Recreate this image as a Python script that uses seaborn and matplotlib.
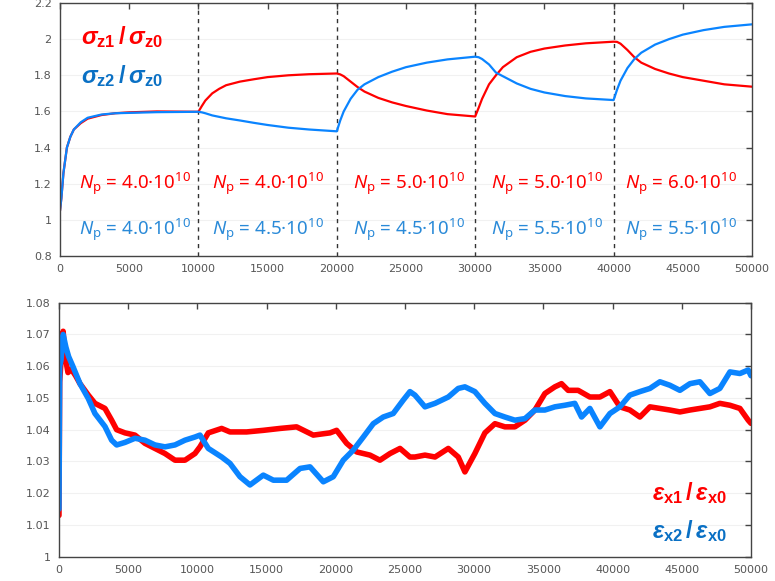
import numpy as np
import pandas as pd
import matplotlib
matplotlib.use("Agg")
import matplotlib.pyplot as plt
import seaborn as sns

# ---- bunch length ratios (upper panel) ----
turns_sz = [0, 100, 250, 500, 750, 1000, 1500, 2000, 3000, 4000, 5000, 7000, 10000,
            10250, 10500, 11000, 11500, 12000, 13000, 14000, 15000, 16500, 18000, 20000,
            20250, 20500, 21000, 21500, 22000, 23000, 24000, 25000, 26500, 28000, 30000,
            30250, 30500, 31000, 31500, 32000, 33000, 34000, 35000, 36500, 38000, 40000,
            40250, 40500, 41000, 41500, 42000, 43000, 44000, 45000, 46500, 48000, 50000]
sigma_z1 = [1.05, 1.12, 1.26, 1.40, 1.46, 1.50, 1.535, 1.56, 1.58, 1.59, 1.595, 1.600, 1.598,
            1.63, 1.66, 1.70, 1.725, 1.745, 1.765, 1.778, 1.790, 1.800, 1.806, 1.810,
            1.805, 1.795, 1.765, 1.735, 1.710, 1.675, 1.650, 1.630, 1.605, 1.585, 1.572,
            1.62, 1.67, 1.75, 1.80, 1.845, 1.90, 1.93, 1.948, 1.965, 1.977, 1.986,
            1.985, 1.975, 1.94, 1.90, 1.87, 1.835, 1.81, 1.79, 1.77, 1.75, 1.737]
sigma_z2 = [1.05, 1.12, 1.26, 1.40, 1.46, 1.50, 1.54, 1.565, 1.583, 1.59, 1.592, 1.596, 1.598,
            1.595, 1.590, 1.578, 1.570, 1.562, 1.550, 1.537, 1.525, 1.510, 1.500, 1.490,
            1.55, 1.60, 1.67, 1.72, 1.75, 1.79, 1.82, 1.845, 1.87, 1.888, 1.903,
            1.900, 1.890, 1.860, 1.815, 1.795, 1.755, 1.725, 1.705, 1.685, 1.672, 1.663,
            1.72, 1.77, 1.84, 1.89, 1.925, 1.97, 2.00, 2.025, 2.05, 2.068, 2.082]

# ---- emittance ratios (lower panel) ----
turns_ex1 = [0, 50, 150, 300, 450, 650, 900, 1200, 1518, 2120, 2600, 3323, 3805, 4167, 4770,
             5490, 6213, 6936, 7658, 8381, 9104, 9826, 10188, 10790, 11754, 12355, 13560,
             14763, 15970, 17170, 18375, 19580, 20060, 20785, 21510, 22470, 23190, 23920,
             24640, 25360, 25720, 26445, 27170, 28130, 28850, 29330, 30050, 30775, 31500,
             32220, 32940, 33670, 34390, 35110, 35830, 36310, 36790, 37510, 38360, 39085,
             39810, 40530, 41250, 41975, 42700, 43420, 44140, 44865, 45590, 46310, 47030,
             47750, 48480, 49200, 49800, 50000]
eps_x1 = [1.013, 1.055, 1.062, 1.071, 1.063, 1.058, 1.059, 1.057, 1.0545, 1.0509, 1.0483,
          1.0467, 1.0430, 1.0400, 1.0390, 1.0383, 1.0357, 1.0341, 1.0325, 1.0304, 1.0304,
          1.0325, 1.0346, 1.0390, 1.0404, 1.0393, 1.0393, 1.0398, 1.0404, 1.0409, 1.0383,
          1.0390, 1.0398, 1.0357, 1.0330, 1.0320, 1.0304, 1.0325, 1.0341, 1.0314, 1.0314,
          1.0320, 1.0314, 1.0341, 1.0314, 1.0267, 1.0325, 1.0390, 1.0419, 1.0409, 1.0409,
          1.0430, 1.0462, 1.0514, 1.0535, 1.0545, 1.0524, 1.0524, 1.0503, 1.0503, 1.0520,
          1.0472, 1.0462, 1.0440, 1.0472, 1.0467, 1.0462, 1.0456, 1.0462, 1.0467, 1.0472,
          1.0483, 1.0477, 1.0467, 1.0430, 1.0420]
turns_ex2 = [0, 50, 150, 300, 500, 700, 1000, 1518, 2120, 2600, 3323, 3805, 4167, 4770, 5490,
             6213, 6936, 7658, 8381, 9104, 9826, 10188, 10790, 11754, 12355, 13078, 13800,
             14763, 15490, 16450, 17420, 18140, 19100, 19820, 20540, 21270, 21990, 22710,
             23430, 24150, 24870, 25360, 25720, 26445, 27170, 28130, 28850, 29330, 30050,
             30775, 31500, 32220, 32940, 33670, 34390, 35110, 35830, 36550, 37270, 37760,
             38360, 39085, 39810, 40530, 41250, 41975, 42700, 43420, 44140, 44865, 45590,
             46310, 47030, 47750, 48480, 49200, 49800, 50000]
eps_x2 = [1.015, 1.060, 1.062, 1.070, 1.066, 1.063, 1.060, 1.0545, 1.0498, 1.0451, 1.0410,
          1.0367, 1.0352, 1.0360, 1.0373, 1.0367, 1.0352, 1.0346, 1.0352, 1.0367, 1.0377,
          1.0383, 1.0341, 1.0314, 1.0294, 1.0252, 1.0226, 1.0257, 1.0241, 1.0241, 1.0278,
          1.0283, 1.0236, 1.0252, 1.0304, 1.0336, 1.0377, 1.0419, 1.0440, 1.0451, 1.0493,
          1.0520, 1.0509, 1.0472, 1.0483, 1.0503, 1.0530, 1.0535, 1.0520, 1.0483, 1.0451,
          1.0440, 1.0430, 1.0435, 1.0462, 1.0462, 1.0472, 1.0477, 1.0483, 1.0440, 1.0467,
          1.0409, 1.0451, 1.0472, 1.0509, 1.0520, 1.0530, 1.0551, 1.0540, 1.0524, 1.0545,
          1.0551, 1.0514, 1.0530, 1.0582, 1.0577, 1.0588, 1.0570]

# ---- intensity steps ----
step_edges = [10000, 20000, 30000, 40000]
np_beam1 = ["4.0", "4.0", "5.0", "5.0", "6.0"]
np_beam2 = ["4.0", "4.5", "4.5", "5.5", "5.5"]
label_turns = [5400, 15000, 25200, 35200, 44900]

x_ticks = list(range(0, 50001, 5000))
y_ticks_top = [0.8, 1.0, 1.2, 1.4, 1.6, 1.8, 2.0, 2.2]
y_ticklabels_top = ["0.8", "1", "1.2", "1.4", "1.6", "1.8", "2", "2.2"]
y_ticks_bot = [1.00, 1.01, 1.02, 1.03, 1.04, 1.05, 1.06, 1.07, 1.08]
y_ticklabels_bot = ["1", "1.01", "1.02", "1.03", "1.04", "1.05", "1.06", "1.07", "1.08"]

RED = "#ff0000"
BLUE = "#0a84ff"
TXT_BLUE = "#0a70c4"
NP_BLUE = "#2a8ad8"

sns.set_theme(style="white")
plt.rcParams.update({
    "font.family": ["DejaVu Sans"],
    "mathtext.fontset": "custom",
    "mathtext.rm": "Noto Sans",
    "mathtext.sf": "Noto Sans:italic",
    "mathtext.it": "Liberation Sans:italic:bold",
    "mathtext.bf": "Liberation Sans:bold",
})

fig = plt.figure(figsize=(7.75, 5.81), dpi=100)
ax1 = fig.add_axes([0.0774, 0.5594, 0.8929, 0.4354])
ax2 = fig.add_axes([0.0761, 0.0418, 0.8929, 0.4372])

df_sz = pd.DataFrame({
    "turn": turns_sz * 2,
    "ratio": sigma_z1 + sigma_z2,
    "beam": ["b1"] * len(turns_sz) + ["b2"] * len(turns_sz),
})
df_ex = pd.DataFrame({
    "turn": turns_ex1 + turns_ex2,
    "ratio": eps_x1 + eps_x2,
    "beam": ["b1"] * len(turns_ex1) + ["b2"] * len(turns_ex2),
})
palette = {"b1": RED, "b2": BLUE}

sns.lineplot(data=df_sz, x="turn", y="ratio", hue="beam", palette=palette,
             linewidth=1.6, legend=False, ax=ax1, estimator=None, sort=False)
sns.lineplot(data=df_ex, x="turn", y="ratio", hue="beam", palette=palette,
             linewidth=4.0, legend=False, ax=ax2, estimator=None, sort=False)

for xe in step_edges:
    ax1.axvline(xe, color="#333333", lw=1.0, ls=(0, (3, 3)), zorder=1)

def style_axes(ax, yticks, ylabels, ylim):
    ax.set_xlim(0, 50000)
    ax.set_ylim(*ylim)
    ax.set_xticks(x_ticks)
    ax.set_xticklabels([str(v) for v in x_ticks])
    ax.set_yticks(yticks)
    ax.set_yticklabels(ylabels)
    ax.set_xlabel("")
    ax.set_ylabel("")
    ax.tick_params(direction="in", length=4, width=1, color="#444444",
                   top=True, right=True, labelsize=8, labelcolor="#555555", pad=6)
    ax.grid(axis="y", color="#f1f1f1", lw=0.8)
    for s in ax.spines.values():
        s.set_color("#444444")
        s.set_linewidth(1.0)

style_axes(ax1, y_ticks_top, y_ticklabels_top, (0.8, 2.2))
style_axes(ax2, y_ticks_bot, y_ticklabels_bot, (1.0, 1.08))

# Ratio labels
ax1.text(0.03, 0.865, r"$\sigma_{\mathbf{z1}}\,\mathbf{/}\,\sigma_{\mathbf{z0}}$",
         transform=ax1.transAxes, color=RED, fontsize=17, va="center", ha="left")
ax1.text(0.03, 0.71, r"$\sigma_{\mathbf{z2}}\,\mathbf{/}\,\sigma_{\mathbf{z0}}$",
         transform=ax1.transAxes, color=TXT_BLUE, fontsize=17, va="center", ha="left")

for xt, n1, n2 in zip(label_turns, np_beam1, np_beam2):
    ax1.text(xt, 1.20, rf"$\mathsf{{N}}_{{\mathrm{{p}}}}$ = {n1}·10$^{{\mathrm{{10}}}}$", color=RED,
             fontsize=13.5, ha="center", va="center", family=["Noto Sans"])
    ax1.text(xt, 0.945, rf"$\mathsf{{N}}_{{\mathrm{{p}}}}$ = {n2}·10$^{{\mathrm{{10}}}}$", color=NP_BLUE,
             fontsize=13.5, ha="center", va="center", family=["Noto Sans"])

ax2.text(0.965, 0.25, r"$\varepsilon_{\mathbf{x1}}\,\mathbf{/}\,\varepsilon_{\mathbf{x0}}$",
         transform=ax2.transAxes, color=RED, fontsize=17, va="center", ha="right")
ax2.text(0.965, 0.10, r"$\varepsilon_{\mathbf{x2}}\,\mathbf{/}\,\varepsilon_{\mathbf{x0}}$",
         transform=ax2.transAxes, color=TXT_BLUE, fontsize=17, va="center", ha="right")

fig.savefig("out.png", dpi=100)
